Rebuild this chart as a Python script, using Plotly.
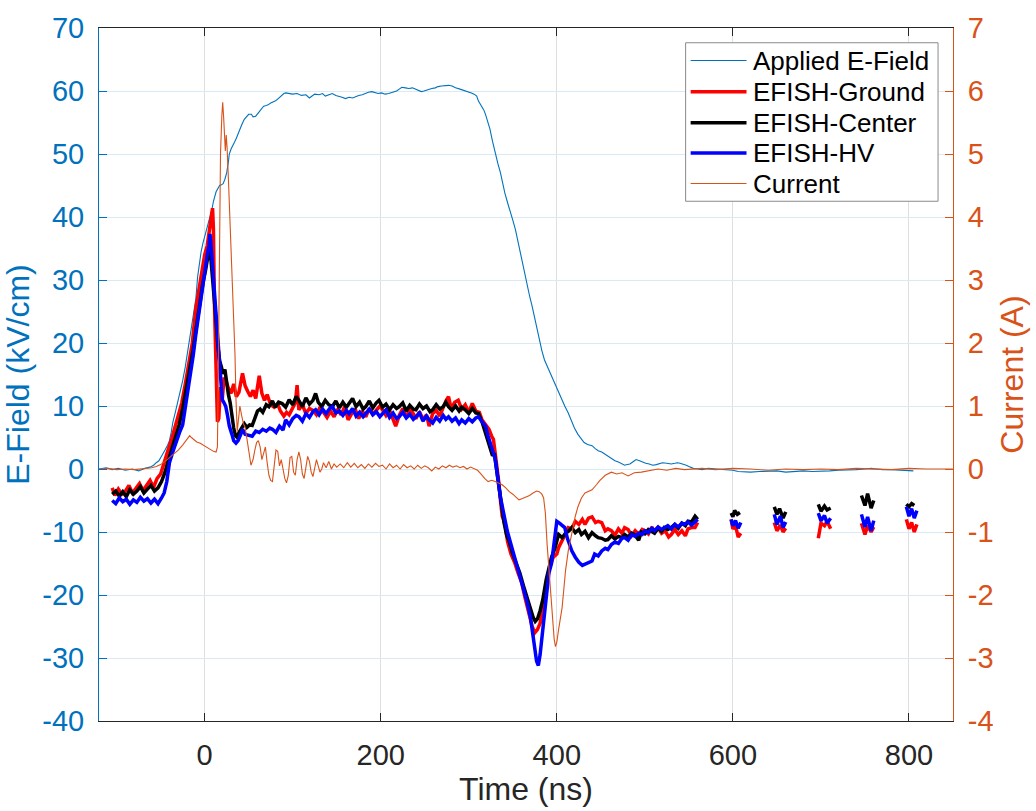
import plotly.graph_objects as go

# ---------------- data ----------------
APPLIED = [(-120,0.0),(-112,0.2),(-105,-0.1),(-98,0.1),(-90,-0.2),(-82,0.0),(-75,-0.3),(-68,0.1),(-62,0.3),(-58,0.6),
(-55,1.0),(-52,1.3),(-50,1.8),(-47,2.4),(-45,3.0),(-42,3.8),(-40,4.5),(-38,5.8),(-36,7.5),(-33,9.2),
(-30,11.0),(-27,12.6),(-25,14.0),(-22,16.2),(-20,18.0),(-17,21.0),(-14,23.8),(-12,25.5),(-10,27.0),(-8,30.5),
(-6,33.0),(-4,34.5),(-2,35.8),(0,37.0),(3,38.5),(5,39.5),(8,41.0),(10,42.5),(13,44.0),(15,44.6),
(17,45.0),(19,45.1),(21,45.3),(23,46.0),(25,47.0),(27,48.8),(28,50.0),(30,50.8),(32,51.5),(34,51.9),
(36,52.5),(38,53.3),(40,54.0),(42,54.6),(45,55.5),(48,56.0),(50,56.3),(53,56.3),(55,55.9),(58,56.0),
(60,56.4),(62,56.8),(65,57.3),(67,57.6),(70,57.7),(72,57.8),(75,58.1),(77,58.2),(80,58.4),(82,58.6),
(85,59.0),(87,59.3),(90,59.6),(92,59.7),(95,59.6),(100,59.5),(105,59.6),(110,59.3),(115,59.4),(119,58.9),
(122,59.2),(125,59.5),(130,59.4),(134,59.6),(137,59.2),(141,59.4),(145,59.6),(149,59.3),(152,59.2),(156,59.0),
(160,58.8),(164,59.0),(168,58.9),(172,59.2),(175,59.3),(179,59.4),(182,59.6),(186,59.8),(190,59.9),(194,59.7),
(197,59.6),(201,59.7),(205,59.5),(209,59.6),(212,59.7),(215,59.8),(218,60.0),(221,60.3),(224,60.6),(228,60.5),
(232,60.4),(236,60.5),(240,60.3),(243,60.1),(246,59.9),(249,60.0),(251,60.1),(255,60.3),(258,60.4),(262,60.5),
(265,60.7),(269,60.8),(273,60.9),(277,60.9),(281,60.8),(285,60.5),(290,60.3),(295,60.1),(300,59.8),(303,59.7),
(306,59.5),(309,59.2),(311,58.4),(313,58.0),(315,57.5),(317,57.0),(319,56.3),(321,55.3),(324,54.0),(327,52.0),
(330,50.0),(333,48.5),(336,47.0),(338,45.5),(341,43.8),(344,42.3),(347,41.0),(350,39.5),(353,38.0),(356,36.0),
(358,34.5),(361,32.6),(364,30.8),(367,28.8),(369,27.5),(372,25.8),(374,24.5),(377,22.8),(379,21.5),(381,20.0),
(383,18.8),(386,17.3),(390,16.0),(394,14.8),(398,13.6),(401,12.5),(405,11.2),(409,10.0),(413,8.9),(416,7.8),
(420,6.5),(424,5.5),(428,4.7),(431,4.2),(435,3.9),(438,3.8),(440,3.7),(444,3.2),(447,2.9),(451,2.7),
(456,2.2),(462,1.6),(466,1.3),(470,1.1),(474,0.8),(477,0.6),(480,0.7),(483,0.8),(487,1.2),(490,1.5),
(494,1.3),(497,1.1),(501,0.9),(505,0.8),(509,0.6),(513,0.7),(517,0.9),(520,1.0),(525,0.9),(530,0.8),
(534,0.9),(537,1.0),(540,0.9),(543,0.8),(547,0.6),(550,0.4),(555,0.1),(560,0.0),(565,-0.1),(572,0.1),
(580,0.0),(590,-0.1),(600,-0.2),(606,-0.4),(613,-0.5),(620,-0.5),(630,-0.4),(640,-0.4),(650,-0.3),(660,-0.5),
(670,-0.4),(680,-0.3),(690,-0.4),(700,-0.4),(710,-0.3),(720,-0.2),(730,-0.2),(740,-0.1),(750,0.0),(757,0.1),
(763,0.0),(770,-0.1),(780,-0.1),(790,-0.2),(798,-0.2),(805,-0.3)]

GROUND_MAIN = [(-105,-3.0),(-102,-4.2),(-98,-3.2),(-94,-4.0),(-90,-3.5),(-86,-2.6),(-82,-3.8),(-78,-3.0),(-74,-2.3),(-70,-3.4),
(-66,-2.5),(-62,-1.8),(-58,-2.9),(-54,-1.5),(-50,-0.8),(-46,1.2),(-42,2.8),(-38,4.5),(-34,6.5),(-30,8.3),
(-26,10.5),(-22,13.5),(-18,16.5),(-14,20.0),(-10,25.5),(-6,29.0),(-3,31.5),(0,34.0),(3,35.5),(6,38.0),
(8,40.5),(9,41.4),(10,38.0),(11,27.0),(13,12.0),(14.5,7.5),(16,8.0),(18,13.0),(20,11.0),(22,14.5),
(24,14.1),(27,12.8),(30,12.0),(33,13.5),(36,11.5),(39,12.2),(43,15.2),(46,13.2),(49,12.3),(52,11.5),
(55,12.5),(58,11.2),(62,14.8),(65,12.0),(68,10.9),(71,11.8),(75,10.2),(79,9.8),(83,10.3),(86,9.2),
(90,8.4),(93,9.0),(96,8.6),(100,9.8),(103,10.5),(105,13.3),(107,9.4),(111,10.2),(115,8.8),(119,9.6),
(123,9.3),(127,8.6),(131,9.8),(135,9.0),(139,8.2),(143,9.2),(147,8.3),(151,9.4),(155,8.6),(159,9.9),
(163,7.8),(167,8.8),(171,9.5),(175,8.0),(179,9.2),(183,8.3),(187,9.6),(191,8.7),(195,9.4),(199,10.0),
(202,9.4),(206,8.5),(210,9.3),(214,8.0),(217,6.8),(221,8.5),(225,9.6),(229,8.2),(233,9.5),(236,9.0),
(240,8.0),(244,9.1),(248,7.9),(252,8.6),(255,6.8),(259,8.8),(263,9.3),(267,8.4),(271,9.9),(274,10.8),
(277,11.5),(280,9.6),(284,10.6),(288,10.9),(292,9.5),(296,10.2),(300,9.0),(304,10.4),(308,9.2),(312,9.0),
(315,7.8),(319,7.0),(323,6.3),(326,5.2),(328,4.7),(330,2.5),(332,0.5),(334,-2.0),(336,-5.0),(338,-7.5),
(341,-8.5),(344,-11.5),(348,-13.5),(352,-14.8),(356,-16.5),(360,-18.0),(364,-20.5),(368,-23.0),(372,-25.0),(375,-26.0),
(378,-25.5),(381,-24.5),(384,-22.3),(388,-18.5),(392,-15.5),(396,-14.0),(400,-13.5),(402,-12.5),(406,-11.5),(409,-10.5),
(413,-9.3),(417,-9.5),(421,-8.3),(425,-8.8),(429,-8.0),(432,-8.8),(436,-7.8),(440,-7.6),(444,-8.5),(447,-8.3),
(451,-8.5),(455,-9.8),(458,-9.5),(462,-9.8),(466,-10.5),(470,-9.5),(474,-10.2),(477,-9.3),(481,-9.6),(485,-10.6),
(489,-9.8),(493,-10.4),(497,-9.6),(500,-9.8),(504,-10.3),(508,-9.2),(511,-10.0),(515,-9.3),(519,-10.2),(523,-9.8),
(527,-10.8),(530,-10.4),(534,-9.6),(538,-10.4),(542,-9.8),(546,-10.6),(549,-9.5),(553,-9.3),(557,-9.3),(560,-8.5)]

CENTER_MAIN = [(-105,-4.0),(-101,-3.5),(-97,-4.3),(-93,-3.6),(-89,-4.4),(-85,-3.3),(-81,-4.0),(-77,-3.5),(-73,-2.8),(-69,-3.8),
(-65,-3.2),(-61,-2.6),(-57,-3.5),(-53,-3.0),(-49,-2.0),(-45,-0.5),(-41,1.5),(-37,3.3),(-33,5.2),(-29,7.0),
(-25,9.5),(-21,12.5),(-17,15.5),(-13,19.0),(-10,22.0),(-6,26.0),(-2,29.5),(1,31.5),(3,33.2),(5,34.9),
(7,33.5),(9,30.5),(11,27.5),(13,23.5),(15,19.5),(17,17.2),(19,16.2),(21,15.1),(23,15.8),(25,13.5),
(27,11.8),(29,10.5),(31,8.3),(33,6.5),(35,5.3),(37,5.0),(39,5.8),(42,6.5),(45,7.2),(48,6.6),
(51,7.0),(54,6.9),(57,8.0),(60,9.2),(63,9.5),(66,9.0),(70,10.2),(73,9.9),(77,10.8),(80,9.8),
(84,10.6),(88,10.4),(92,9.8),(96,11.0),(100,10.2),(104,11.5),(107,10.9),(111,9.9),(115,11.3),(119,10.3),
(123,10.9),(126,12.0),(129,10.6),(133,9.9),(137,10.9),(141,10.2),(145,9.9),(149,10.8),(153,9.7),(157,10.6),
(161,9.8),(164,10.4),(168,11.2),(172,9.9),(176,10.6),(180,9.5),(183,9.9),(187,10.8),(191,9.7),(195,10.5),
(198,10.9),(202,9.8),(206,10.3),(210,9.4),(214,10.2),(218,9.6),(221,9.9),(225,10.5),(229,9.2),(233,10.1),
(237,9.5),(240,9.4),(244,10.3),(248,9.6),(252,10.0),(256,9.1),(259,9.4),(263,10.2),(267,9.5),(271,9.9),
(274,10.6),(277,9.9),(281,9.3),(285,10.0),(289,9.2),(292,9.8),(296,9.4),(300,8.8),(304,9.6),(308,8.9),
(311,8.8),(315,7.5),(319,5.7),(322,4.2),(325,3.0),(327,2.1),(329,2.5),(331,0.5),(333,-2.0),(335,-4.0),
(337,-6.5),(340,-8.5),(343,-10.5),(346,-11.5),(350,-13.5),(354,-15.0),(358,-16.5),(362,-18.5),(366,-20.5),(370,-22.5),
(373,-23.5),(375.5,-24.2),(378,-23.8),(381,-22.5),(384,-20.8),(388,-17.5),(391,-15.5),(394,-14.0),(398,-12.5),(402,-10.4),
(406,-10.9),(410,-10.2),(414,-9.8),(417,-9.3),(421,-10.1),(425,-9.6),(428,-10.4),(432,-9.9),(436,-10.9),(440,-10.1),
(444,-10.6),(447,-10.9),(451,-11.0),(455,-11.3),(458,-11.2),(462,-10.6),(466,-11.1),(470,-10.7),(474,-10.9),(477,-10.4),
(481,-10.8),(485,-10.2),(489,-10.5),(493,-11.3),(496,-10.0),(500,-10.3),(504,-9.6),(507,-9.8),(511,-10.2),(515,-9.4),
(519,-9.9),(522,-9.3),(526,-9.6),(530,-9.3),(534,-8.8),(538,-9.4),(542,-8.6),(546,-9.0),(549,-8.3),(553,-8.4),
(557,-7.5),(560,-8.0)]

HV_MAIN = [(-105,-5.0),(-101,-5.5),(-97,-4.6),(-93,-5.2),(-89,-4.8),(-85,-5.6),(-81,-4.9),(-77,-5.3),(-73,-4.5),(-69,-5.1),
(-65,-4.7),(-61,-5.4),(-57,-4.8),(-53,-5.5),(-49,-4.6),(-46,-3.8),(-43,-2.0),(-40,1.0),(-36,2.8),(-32,4.5),
(-28,6.0),(-25,7.0),(-21,10.5),(-17,14.5),(-13,18.0),(-10,21.4),(-6,25.5),(-3,28.5),(0,31.8),(3,34.0),
(5,35.5),(6,37.3),(7,36.0),(9,32.0),(11,28.2),(13,24.5),(15,20.0),(16.5,16.2),(18,13.5),(20,11.0),
(22,10.5),(24,9.9),(26,8.5),(28,6.8),(31,5.5),(33,4.5),(35.6,4.1),(38,4.5),(41,5.5),(43,6.3),
(46,5.5),(50,5.3),(54,5.2),(58,6.0),(62,5.8),(66,6.3),(70,6.0),(74,6.5),(77,6.3),(81,5.8),
(85,6.8),(89,6.2),(92,7.8),(96,7.0),(100,8.0),(104,8.5),(107,8.3),(111,7.6),(115,8.8),(119,8.2),
(123,9.1),(126,9.4),(130,8.6),(134,9.5),(138,8.8),(142,9.6),(145,9.9),(149,8.9),(153,9.2),(157,8.5),
(161,9.3),(164,8.8),(168,9.6),(172,8.4),(176,9.0),(180,8.3),(183,8.8),(187,9.5),(191,8.6),(195,9.1),
(199,8.3),(202,8.8),(206,9.4),(210,8.2),(214,8.9),(218,8.0),(221,8.3),(225,9.0),(229,8.1),(233,8.7),
(237,7.9),(240,8.3),(244,8.9),(248,7.6),(252,8.4),(255,7.8),(259,7.3),(263,8.2),(267,7.6),(271,8.5),
(274,7.9),(277,8.3),(281,7.6),(285,8.1),(289,7.2),(292,7.8),(296,7.3),(300,8.0),(304,7.5),(308,8.1),
(311,8.3),(315,7.5),(319,6.8),(322,5.2),(325,3.6),(328,2.5),(330,1.6),(332,-1.0),(334,-2.5),(336,-4.5),
(338,-6.2),(341,-8.0),(344,-10.0),(347,-11.5),(350,-13.0),(354,-15.0),(358,-16.8),(362,-18.8),(366,-21.0),(370,-23.5),
(373,-26.0),(375,-28.5),(377,-30.5),(379,-31.2),(381,-29.5),(383,-27.0),(385,-24.0),(388,-19.5),(391,-16.5),(394,-15.0),
(397,-11.0),(400,-8.3),(403,-8.6),(406,-8.9),(409,-9.3),(412,-11.0),(417,-13.0),(421,-14.0),(425,-14.8),(429,-15.3),
(432,-15.1),(436,-14.8),(440,-14.6),(443,-13.5),(447,-13.8),(451,-13.0),(455,-12.6),(458,-12.8),(462,-12.0),(466,-11.6),
(470,-11.8),(474,-11.0),(477,-10.9),(481,-11.3),(485,-10.4),(489,-10.7),(493,-10.2),(497,-10.4),(500,-9.8),(504,-10.1),
(508,-9.4),(511,-9.8),(515,-9.2),(519,-9.6),(522,-9.3),(526,-9.0),(530,-9.5),(534,-8.8),(538,-9.2),(542,-8.6),
(545,-8.8),(549,-8.4),(553,-8.9),(557,-8.3),(560,-8.0)]

# short late acquisition windows (ns, kV/cm)
GROUND_LATE = [[(598,-8.0),(600,-9.5),(603,-9.0),(606,-10.8),(609,-10.2)],
               [(647,-8.5),(650,-9.8),(654,-8.9),(657,-10.0),(660,-9.4)],
               [(697,-11.0),(700,-8.6),(704,-9.0),(707,-8.3),(711,-9.5)],
               [(746,-8.6),(750,-10.4),(753,-9.0),(757,-10.0),(760,-9.2)],
               [(797,-8.0),(800,-9.5),(803,-8.5),(806,-10.0),(809,-8.8)]]
CENTER_LATE = [[(598,-7.0),(600,-7.6),(602,-6.6),(605,-7.2),(608,-6.9)],
               [(647,-6.0),(650,-7.2),(653,-6.3),(657,-7.8),(660,-6.8)],
               [(697,-5.6),(700,-6.7),(704,-5.9),(707,-6.5),(711,-6.2)],
               [(746,-4.2),(750,-5.8),(753,-3.9),(757,-6.2),(760,-5.0)],
               [(797,-5.6),(800,-6.0),(803,-5.5),(806,-5.8)]]
HV_LATE = [[(598,-8.0),(600,-9.0),(603,-8.2),(606,-9.4),(609,-8.5)],
           [(647,-7.2),(650,-8.8),(654,-7.5),(657,-9.3),(660,-8.4)],
           [(697,-7.0),(700,-8.2),(704,-7.4),(707,-8.6),(711,-7.8)],
           [(746,-7.2),(750,-9.2),(753,-7.6),(757,-9.8),(760,-8.2)],
           [(797,-6.0),(800,-7.5),(803,-6.3),(806,-7.8),(809,-6.6)]]

CURRENT = [(-120,0.0),(-110,0.01),(-100,-0.01),(-90,0.0),(-80,-0.01),(-70,0.0),(-65,0.01),(-60,0.02),(-55,0.04),(-50,0.07),
(-45,0.12),(-40,0.18),(-35,0.24),(-30,0.3),(-25,0.38),(-22,0.44),(-19,0.5),(-17,0.53),(-15,0.5),(-12,0.46),
(-9,0.43),(-5,0.41),(0,0.37),(5,0.32),(10,0.28),(13,0.27),(14.5,0.35),(15.5,1.5),(16.5,3.5),(18,5.0),
(19.5,5.6),(20.5,5.82),(21.5,5.6),(22.5,5.2),(23.5,5.05),(24.5,5.3),(25.5,5.1),(27,4.6),(29,3.9),(31,3.2),
(33,2.4),(34.5,1.8),(35.6,1.1),(37,0.6),(38.5,0.8),(40,1.0),(42,0.85),(44,0.72),(46,0.66),(48,0.5),
(50,0.3),(52.6,0.06),(55,0.15),(57,0.3),(59,0.42),(61,0.45),(63,0.35),(65,0.15),(67,0.25),(69,0.35),
(71,0.1),(73,-0.1),(75,-0.18),(77,-0.2),(79,0.05),(81,0.3),(83,0.28),(85,0.05),(87,0.15),(89,0.0),
(91,-0.15),(93,-0.22),(95,-0.1),(97,0.18),(99,0.2),(101,-0.05),(103,-0.1),(105,0.15),(107,0.27),(109,0.15),
(111,-0.08),(113,-0.15),(115,0.0),(117,0.2),(119,0.12),(121,-0.05),(123,-0.12),(125,0.02),(127,0.15),(129,0.05),
(131,-0.05),(133,0.0),(135,0.1),(138,0.02),(141,0.12),(144,0.0),(147,0.08),(150,0.03),(154,0.08),(158,0.02),
(162,0.1),(166,0.03),(170,0.09),(174,0.02),(178,0.07),(182,0.01),(186,0.08),(190,0.03),(194,0.09),(198,0.04),
(202,0.06),(206,0.0),(210,0.08),(214,0.02),(218,0.06),(222,0.0),(226,0.07),(230,0.02),(234,0.05),(238,0.0),
(242,0.06),(246,0.01),(250,0.05),(254,0.02),(258,-0.03),(262,0.03),(266,0.0),(270,0.05),(274,0.02),(278,0.06),
(282,0.03),(286,0.05),(290,0.02),(294,0.04),(298,0.0),(302,0.03),(306,0.0),(310,-0.02),(314,-0.08),(318,-0.15),
(322,-0.2),(326,-0.18),(330,-0.2),(334,-0.23),(338,-0.25),(342,-0.3),(346,-0.36),(350,-0.4),(354,-0.46),(357,-0.49),
(361,-0.47),(365,-0.45),(369,-0.42),(373,-0.38),(377,-0.35),(380,-0.36),(383,-0.4),(385,-0.46),(387,-0.7),(389,-1.2),
(391,-1.6),(393,-2.0),(395,-2.4),(397,-2.7),(398.5,-2.82),(400,-2.75),(402,-2.55),(404,-2.4),(406,-2.2),(408,-1.9),
(410,-1.6),(413,-1.3),(417,-1.0),(421,-0.75),(424,-0.6),(428,-0.46),(432,-0.38),(436,-0.36),(440,-0.33),(445,-0.25),
(449,-0.18),(455,-0.1),(462,-0.05),(468,-0.08),(474,-0.06),(481,-0.11),(488,-0.06),(496,-0.05),(505,-0.03),(515,0.0),
(525,-0.02),(535,0.01),(545,-0.01),(553,0.0),(565,0.01),(580,-0.01),(600,0.01),(620,0.0),(640,-0.02),(660,0.0),
(680,-0.01),(700,0.0),(720,-0.01),(740,0.01),(760,0.0),(780,-0.01),(800,0.01),(820,0.0),(850,0.0)]

X_TICKS = [0, 200, 400, 600, 800]
Y_TICKS = [-40, -30, -20, -10, 0, 10, 20, 30, 40, 50, 60, 70]
Y2_TICKS = [-4, -3, -2, -1, 0, 1, 2, 3, 4, 5, 6, 7]

SERIES_NAMES = ["Applied E-Field", "EFISH-Ground", "EFISH-Center", "EFISH-HV", "Current"]

# ---------------- helpers ----------------
def unzip(pairs):
    return [p[0] for p in pairs], [p[1] for p in pairs]

def with_gaps(main, late):
    xs, ys = unzip(main)
    for seg in late:
        xs.append(None); ys.append(None)
        sx, sy = unzip(seg)
        xs += sx; ys += sy
    return xs, ys

FONT = "Liberation Sans, Arial, Helvetica, sans-serif"
C_BLUE = "#0072BD"
C_ORANGE = "#D95319"
C_DARK = "#262626"

STYLES = [dict(color=C_BLUE, width=1.1), dict(color="#FF0000", width=3.5),
          dict(color="#000000", width=3.5), dict(color="#0000FF", width=3.5),
          dict(color=C_ORANGE, width=1.1)]

fig = go.Figure()
ax, ay = unzip(APPLIED)
fig.add_trace(go.Scatter(x=ax, y=ay, mode="lines", name=SERIES_NAMES[0], line=STYLES[0]))
gx, gy = with_gaps(GROUND_MAIN, GROUND_LATE)
fig.add_trace(go.Scatter(x=gx, y=gy, mode="lines", name=SERIES_NAMES[1], line=STYLES[1], connectgaps=False))
cx, cy = with_gaps(CENTER_MAIN, CENTER_LATE)
fig.add_trace(go.Scatter(x=cx, y=cy, mode="lines", name=SERIES_NAMES[2], line=STYLES[2], connectgaps=False))
hx, hy = with_gaps(HV_MAIN, HV_LATE)
fig.add_trace(go.Scatter(x=hx, y=hy, mode="lines", name=SERIES_NAMES[3], line=STYLES[3], connectgaps=False))
ix, iy = unzip(CURRENT)
fig.add_trace(go.Scatter(x=ix, y=iy, mode="lines", name=SERIES_NAMES[4], yaxis="y2", line=STYLES[4]))

# ---------------- MATLAB-style legend box (paper coordinates) ----------------
L_X0, L_X1, L_Y0, L_Y1 = 0.6869, 0.9825, 0.750, 0.9787
ROW_Y = [0.9531, 0.9081, 0.8632, 0.8196, 0.7756]
LINE_X0, LINE_X1, TEXT_X = 0.6928, 0.7582, 0.7640

shapes = [dict(type="rect", xref="paper", yref="paper", x0=L_X0, x1=L_X1, y0=L_Y0, y1=L_Y1,
               fillcolor="white", line=dict(color="#8a8a8a", width=1), layer="above")]
annotations = []
for name, st, ry in zip(SERIES_NAMES, STYLES, ROW_Y):
    shapes.append(dict(type="line", xref="paper", yref="paper", x0=LINE_X0, x1=LINE_X1,
                       y0=ry, y1=ry, line=dict(color=st["color"], width=st["width"]), layer="above"))
    annotations.append(dict(xref="paper", yref="paper", x=TEXT_X, y=ry, text=name,
                            showarrow=False, xanchor="left", yanchor="middle",
                            font=dict(family=FONT, size=26, color="#000000")))

fig.update_layout(
    width=1036, height=811,
    margin=dict(l=99, r=81, t=22, b=85),
    paper_bgcolor="white", plot_bgcolor="white",
    font=dict(family=FONT, size=29, color=C_DARK),
    showlegend=False,
    shapes=shapes, annotations=annotations,
    xaxis=dict(range=[-120, 850], tickvals=X_TICKS, ticktext=[str(v) for v in X_TICKS],
               ticks="inside", ticklen=8, tickcolor=C_DARK, tickwidth=1,
               showline=True, linecolor=C_DARK, linewidth=1, mirror="ticks",
               showgrid=True, gridcolor="#dfdfdf", gridwidth=1, zeroline=False,
               tickfont=dict(size=29, color=C_DARK), ticklabelstandoff=8,
               title=dict(text="Time (ns)", font=dict(size=32, color=C_DARK), standoff=6)),
    yaxis=dict(range=[-40, 70], tickvals=Y_TICKS, ticktext=[str(v) for v in Y_TICKS],
               ticks="inside", ticklen=8, tickcolor=C_BLUE, tickwidth=1,
               showline=True, linecolor=C_BLUE, linewidth=1, mirror=False,
               showgrid=True, gridcolor="#d9eaf5", gridwidth=1, zeroline=False,
               tickfont=dict(size=29, color=C_BLUE), ticklabelstandoff=8,
               title=dict(text="E-Field (kV/cm)", font=dict(size=32, color=C_BLUE), standoff=8)),
    yaxis2=dict(range=[-4, 7], tickvals=Y2_TICKS, ticktext=[str(v) for v in Y2_TICKS],
                overlaying="y", side="right",
                ticks="inside", ticklen=8, tickcolor=C_ORANGE, tickwidth=1,
                showline=True, linecolor=C_ORANGE, linewidth=1,
                showgrid=False, zeroline=False,
                tickfont=dict(size=29, color=C_ORANGE), ticklabelstandoff=8,
                title=dict(text="Current (A)", font=dict(size=32, color=C_ORANGE), standoff=8)),
)

fig.write_html("out.html")
